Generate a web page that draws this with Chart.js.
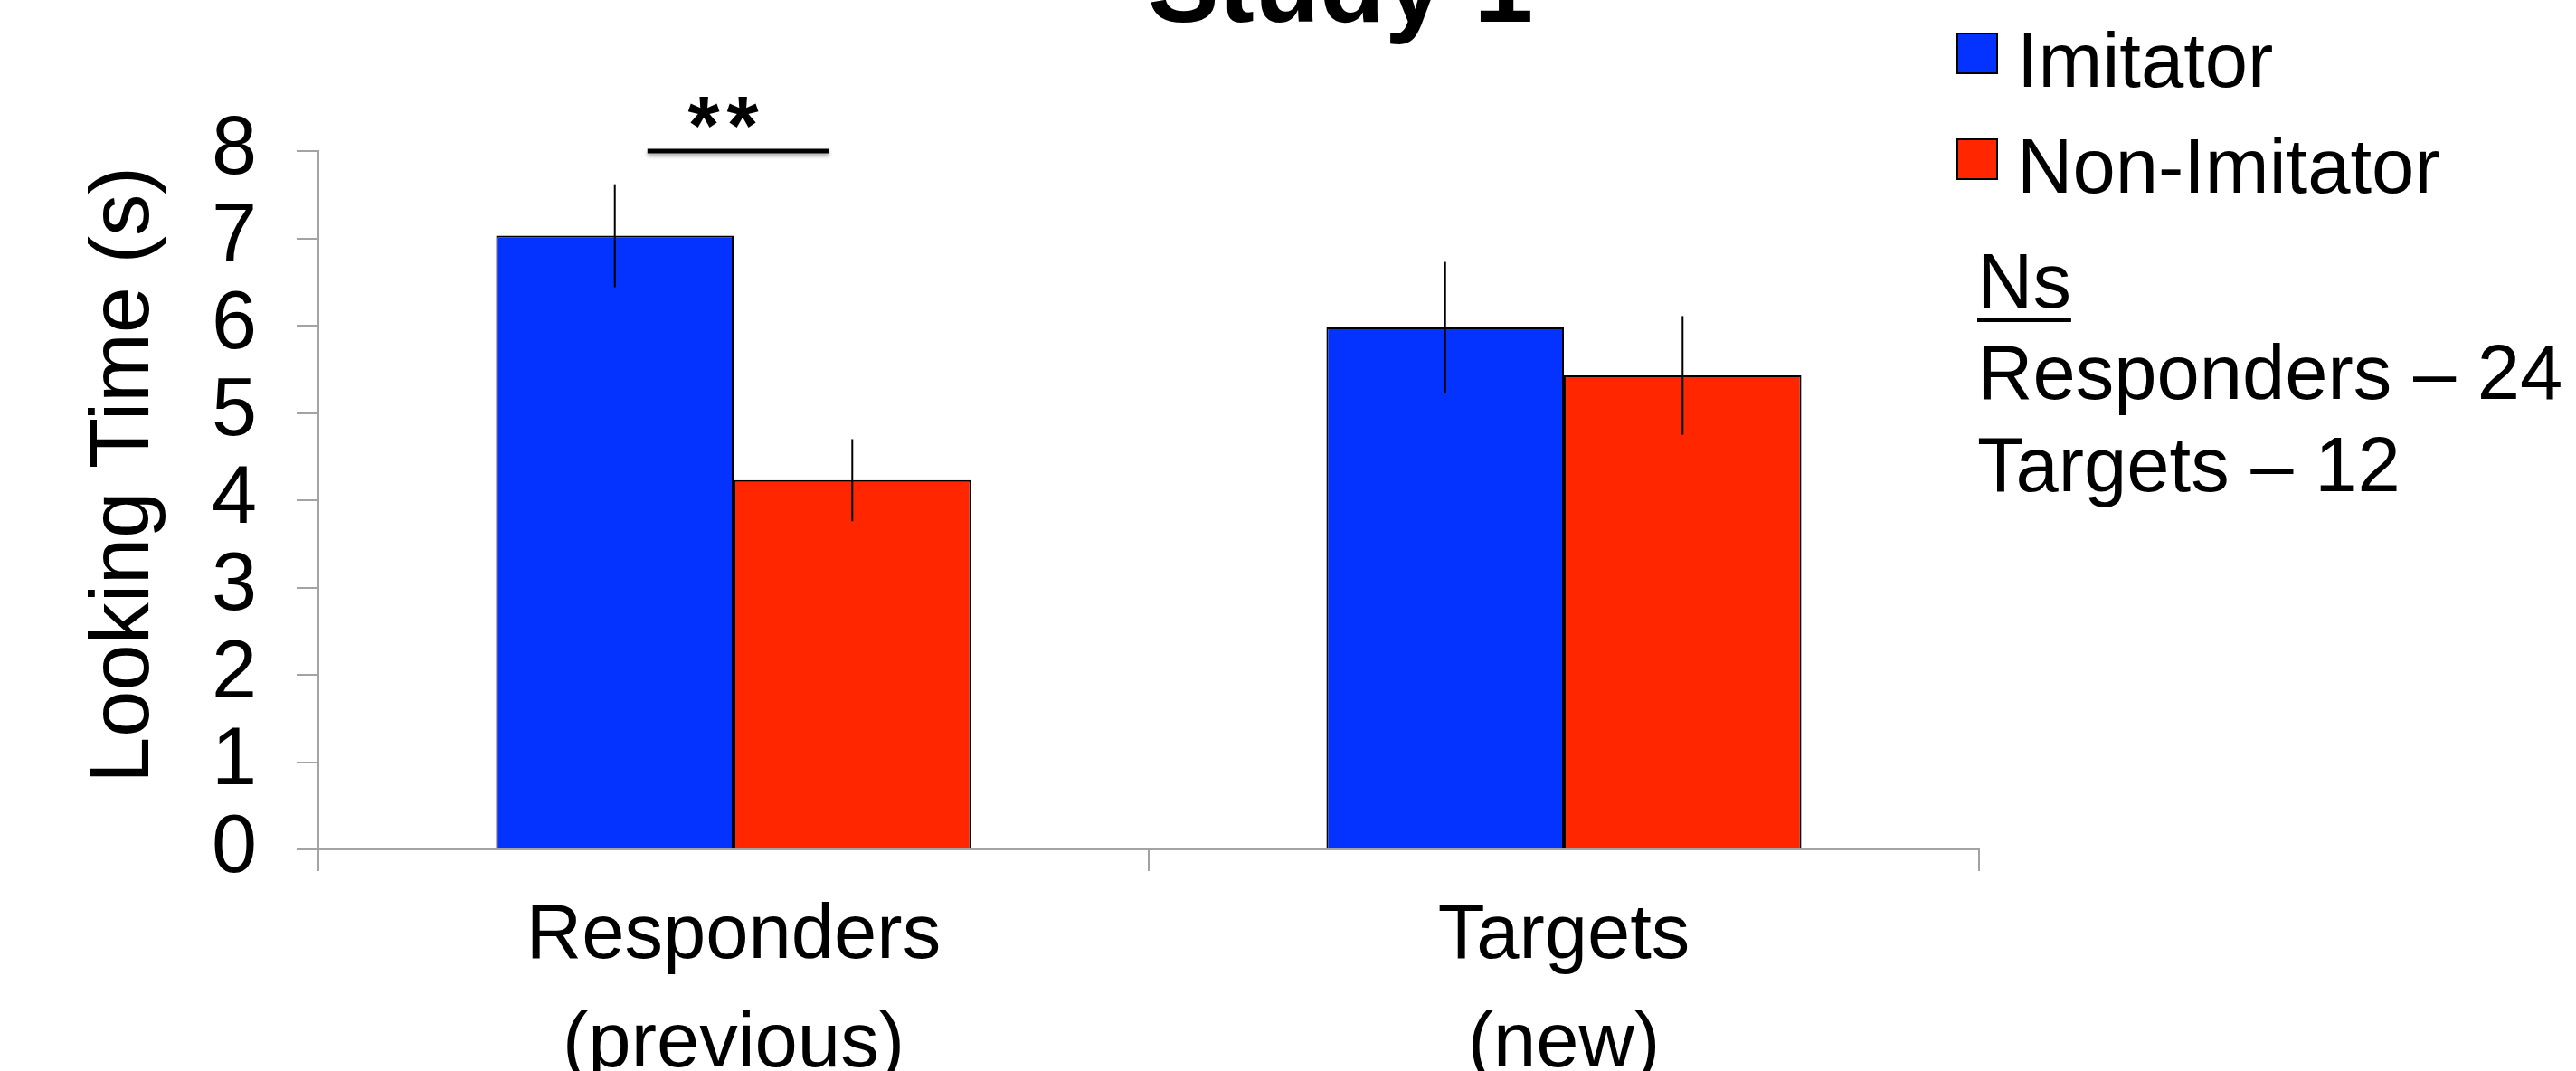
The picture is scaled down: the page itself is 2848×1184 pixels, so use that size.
<!DOCTYPE html>
<html lang="en">
<head>
  <meta charset="UTF-8" />
  <title>Study 1 - Looking Time</title>
  <script src="https://cdn.jsdelivr.net/npm/chart.js"></script>
  <style>
    html, body { margin: 0; padding: 0; background: #fff; }
    #wrap { width: 2848px; height: 1184px; }
  </style>
</head>
<body>
  <div id="wrap">
    <canvas id="lookingChart" width="2848" height="1184"></canvas>
  </div>

  <script>
    // data
    const categories = [['Responders', '(previous)'], ['Targets', '(new)']];
    const seriesNames = ['Imitator', 'Non-Imitator'];
    const imitatorMeans = [7.03, 5.98];
    const nonImitatorMeans = [4.23, 5.43];
    const imitatorErr = [0.59, 0.75];
    const nonImitatorErr = [0.47, 0.68];
    const yTicks = [0, 1, 2, 3, 4, 5, 6, 7, 8];
    const nsLines = ['Responders \u2013 24', 'Targets \u2013 12'];
    const sigLevel = 8.0;      // y value of the significance bar
    const sigStarLevel = 8.43; // y value of the "**"

    const FONT = "'Liberation Sans', Arial, Helvetica, sans-serif";
    const blue = '#0433ff';
    const red = '#ff2600';
    const axisGray = '#a3a3a3';

    // error bars, significance mark, title, axis title, legend and Ns note
    const extras = {
      id: 'extras',
      afterDatasetsDraw(chart) {
        const ctx = chart.ctx;
        const yScale = chart.scales.y;
        const xScale = chart.scales.x;
        const errs = [imitatorErr, nonImitatorErr];

        ctx.save();
        ctx.strokeStyle = '#000';
        ctx.lineWidth = 2;
        chart.data.datasets.forEach((ds, di) => {
          const meta = chart.getDatasetMeta(di);
          meta.data.forEach((bar, i) => {
            const v = ds.data[i];
            const e = errs[di][i];
            ctx.beginPath();
            ctx.moveTo(bar.x, yScale.getPixelForValue(v + e));
            ctx.lineTo(bar.x, yScale.getPixelForValue(v - e));
            ctx.stroke();
          });
        });

        // ** bar over the Responders pair
        const catW = xScale.getPixelForValue(1) - xScale.getPixelForValue(0);
        const cx = xScale.getPixelForValue(0) + 3;
        const sy = yScale.getPixelForValue(sigLevel);
        ctx.shadowColor = 'rgba(0,0,0,0.35)';
        ctx.shadowBlur = 4;
        ctx.shadowOffsetY = 3;
        ctx.lineWidth = 5;
        ctx.beginPath();
        ctx.moveTo(cx - catW * 0.107, sy);
        ctx.lineTo(cx + catW * 0.112, sy);
        ctx.stroke();
        ctx.shadowColor = 'transparent';
        ctx.fillStyle = '#000';
        ctx.font = 'bold 90px ' + FONT;
        ctx.textAlign = 'center';
        ctx.textBaseline = 'middle';
        ctx.fillText('*', cx - 36, yScale.getPixelForValue(sigStarLevel) + 20);
        ctx.fillText('*', cx + 7, yScale.getPixelForValue(sigStarLevel) + 20);
        ctx.restore();
      },
      afterDraw(chart) {
        const ctx = chart.ctx;
        const area = chart.chartArea;
        ctx.save();
        ctx.fillStyle = '#000';

        // title, cut off by the top edge like the original
        ctx.font = 'bold 118px ' + FONT;
        ctx.textAlign = 'center';
        ctx.textBaseline = 'alphabetic';
        ctx.fillText('Study 1', 1482, 24);

        // y axis title (sits a little above the plot's middle)
        ctx.save();
        ctx.translate(139, (area.top + area.bottom) / 2 - 28);
        ctx.rotate(-Math.PI / 2);
        ctx.font = '92px ' + FONT;
        ctx.textAlign = 'center';
        ctx.textBaseline = 'middle';
        ctx.fillText('Looking Time (s)', 0, 0);
        ctx.restore();

        // legend
        ctx.font = '85px ' + FONT;
        ctx.textAlign = 'left';
        ctx.textBaseline = 'alphabetic';
        const colors = [blue, red];
        const rows = [96, 213];
        seriesNames.forEach((name, i) => {
          ctx.fillStyle = colors[i];
          ctx.fillRect(2164, rows[i] - 59, 44, 44);
          ctx.strokeStyle = '#000';
          ctx.lineWidth = 2;
          ctx.strokeRect(2164, rows[i] - 59, 44, 44);
          ctx.fillStyle = '#000';
          ctx.fillText(name, 2230, rows[i]);
        });

        // Ns note
        ctx.fillText('Ns', 2186, 340);
        const nsW = ctx.measureText('Ns').width;
        ctx.fillRect(2186, 351, nsW, 5);
        nsLines.forEach((t, i) => ctx.fillText(t, 2186, 441 + i * 102));
        ctx.restore();
      }
    };

    new Chart(document.getElementById('lookingChart'), {
      type: 'bar',
      data: {
        labels: categories,
        datasets: [
          {
            label: seriesNames[0],
            data: imitatorMeans,
            backgroundColor: blue,
            borderColor: '#000',
            borderWidth: 2
          },
          {
            label: seriesNames[1],
            data: nonImitatorMeans,
            backgroundColor: red,
            borderColor: '#000',
            borderWidth: 2
          }
        ]
      },
      options: {
        responsive: false,
        animation: false,
        devicePixelRatio: 1,
        datasets: {
          bar: { categoryPercentage: 0.572, barPercentage: 1.0 }
        },
        layout: { padding: { left: 0, right: 660, top: 167, bottom: 0 } },
        plugins: {
          legend: { display: false },
          tooltip: { enabled: false },
          title: { display: false }
        },
        scales: {
          x: {
            grid: {
              offset: true,
              drawOnChartArea: false,
              tickLength: 24,
              color: axisGray,
              lineWidth: 2
            },
            border: { color: axisGray, width: 2 },
            ticks: {
              color: '#000',
              padding: 13,
              font: { family: FONT, size: 85, lineHeight: 1.41 },
              maxRotation: 0,
              autoSkip: false
            },
            afterFit: s => { s.height = 245; }
          },
          y: {
            min: yTicks[0],
            max: yTicks[yTicks.length - 1],
            afterBuildTicks: s => { s.ticks = yTicks.map(v => ({ value: v })); },
            grid: {
              drawOnChartArea: false,
              tickLength: 24,
              color: axisGray,
              lineWidth: 2
            },
            border: { color: axisGray, width: 2 },
            ticks: {
              color: '#000',
              padding: 44,
              autoSkip: false,
              font: { family: FONT, size: 90 }
            },
            afterFit: s => { s.width = 352; }
          }
        }
      },
      plugins: [extras]
    });
  </script>
</body>
</html>
